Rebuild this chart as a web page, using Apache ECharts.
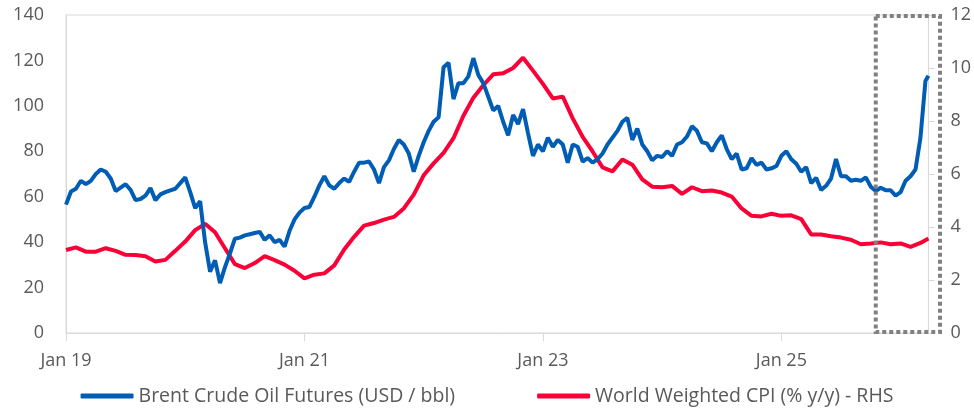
<!DOCTYPE html>
<html>
<head>
<meta charset="utf-8">
<script src="https://cdn.jsdelivr.net/npm/echarts@6/dist/echarts.min.js"></script>
<style>
html,body{margin:0;padding:0;background:#fff;}
#chart{width:974px;height:408px;}
</style>
</head>
<body>
<div id="chart"></div>
<script>
// Brent crude oil futures (USD/bbl), half-monthly readings (1st and 16th of each month)
var brent2019 = [56.5,62.3,63.5,67,65.5,67,70,72,71,68,62.5,64,65.5,63,58.5,59,60.5,63.8,58.5,61,62,62.8,63.5,66];
var brent2020 = [68.5,62,55,58,40,27,32,22,29,35,41.5,42,43,43.5,44,44.5,41,43,40,41,38,45,50,53];
var brent2021 = [55,55.5,60,65,69,65,63.5,66,68,66.5,71,75,75,75.5,72,66,73,76,81,85,83,79,71,78];
var brent2022 = [84,89,93,95,117,119,103,110,110,113,121,113.6,110,104,98,100,93,87,96,92,98.6,88,78,83];
var brent2023 = [80,86,82,85,83,75,83,82,75.5,77,75,76.5,79,83,86,89,93,94.7,85,90,83,80,76,78];
var brent2024 = [77.5,80,78,83,84,86.5,91,89,84,83.5,80,84,87,81,76.5,79,72,72.5,77,74,75,72,72.5,73.5];
var brent2025 = [78,80,76.5,74.5,71,73,66,68.3,63,64.8,68,76.6,69,69,67,67.5,67,68.5,64.4,62.5,64,62.8,62.8,60.5];
var brent2026 = [62,67,69,72,86,111];
var brentLast = ['2026-03-25', 113.3];

// World weighted CPI (% y/y), monthly
var cpi2019 = [3.13,3.23,3.07,3.07,3.2,3.1,2.95,2.94,2.9,2.7,2.76,3.1];
var cpi2020 = [3.45,3.88,4.12,3.8,3.2,2.6,2.45,2.64,2.9,2.75,2.58,2.35];
var cpi2021 = [2.06,2.2,2.25,2.55,3.15,3.63,4.05,4.15,4.28,4.38,4.7,5.22];
var cpi2022 = [5.95,6.4,6.8,7.35,8.2,8.88,9.35,9.76,9.8,10.0,10.39,9.9];
var cpi2023 = [9.4,8.85,8.92,8.1,7.4,6.85,6.25,6.1,6.55,6.35,5.8,5.52];
var cpi2024 = [5.5,5.55,5.25,5.5,5.35,5.38,5.3,5.15,4.7,4.42,4.4,4.5];
var cpi2025 = [4.42,4.44,4.3,3.72,3.72,3.65,3.6,3.52,3.35,3.38,3.42,3.35];
var cpi2026 = [3.38,3.25,3.4];
var cpiLast = ['2026-03-25', 3.57];

var axisStart = '2019-01-01';
var axisEnd = '2026-03-25';
var xTickYears = ['Jan 19','Jan 21','Jan 23','Jan 25'];
var leftTicks = [0,20,40,60,80,100,120,140];
var rightTicks = [0,2,4,6,8,10,12];
var seriesNames = ['Brent Crude Oil Futures (USD / bbl)', 'World Weighted CPI (% y/y) - RHS'];
var highlightFrom = '2025-10-16';
var highlightTo = '2026-04-30';

function monthIndex(dateStr){
  var p = dateStr.split('-').map(Number);
  return (p[0]-2019)*12 + (p[1]-1) + (p[2]-1)/30;
}
function halfMonthly(year, arr){
  return arr.map(function(v,i){
    var m = Math.floor(i/2), d = (i%2) ? 16 : 1;
    var ds = year + '-' + String(m+1).padStart(2,'0') + '-' + String(d).padStart(2,'0');
    return [monthIndex(ds), v];
  });
}
function monthly(year, arr){
  return arr.map(function(v,i){
    var ds = year + '-' + String(i+1).padStart(2,'0') + '-01';
    return [monthIndex(ds), v];
  });
}
var brentData = [].concat(
  halfMonthly(2019,brent2019), halfMonthly(2020,brent2020), halfMonthly(2021,brent2021),
  halfMonthly(2022,brent2022), halfMonthly(2023,brent2023), halfMonthly(2024,brent2024),
  halfMonthly(2025,brent2025), halfMonthly(2026,brent2026), [[monthIndex(brentLast[0]), brentLast[1]]]);
var cpiData = [].concat(
  monthly(2019,cpi2019), monthly(2020,cpi2020), monthly(2021,cpi2021), monthly(2022,cpi2022),
  monthly(2023,cpi2023), monthly(2024,cpi2024), monthly(2025,cpi2025), monthly(2026,cpi2026),
  [[monthIndex(cpiLast[0]), cpiLast[1]]]);

var FONT = '"Open Sans", Lato, sans-serif';
var LABEL = '#595959';
var AXIS = '#d9d9d9';

var chart = echarts.init(document.getElementById('chart'));
chart.setOption({
  animation: false,
  grid: {left: 66, right: 40, top: 15, bottom: 75, show: true, borderColor: AXIS, borderWidth: 1},
  legend: {
    top: 381, left: 'center', itemWidth: 53, itemHeight: 5, itemGap: 82,
    icon: 'roundRect',
    textStyle: {fontFamily: FONT, fontSize: 19.5, color: LABEL},
    data: seriesNames
  },
  xAxis: {
    type: 'value', min: monthIndex(axisStart), max: monthIndex(axisEnd), interval: 24,
    axisLine: {show: true, lineStyle: {color: AXIS, width: 1}},
    axisTick: {show: true, length: 8, lineStyle: {color: AXIS}},
    splitLine: {show: false},
    axisLabel: {
      fontFamily: FONT, fontSize: 18, color: LABEL, margin: 19,
      formatter: function(v){ var i = Math.round(v/24); return xTickYears[i] || ''; },
      showMaxLabel: false
    }
  },
  yAxis: [{
    type: 'value', min: leftTicks[0], max: leftTicks[leftTicks.length-1], interval: 20,
    axisLine: {show: true, lineStyle: {color: AXIS}},
    axisTick: {show: false}, splitLine: {show: false},
    axisLabel: {fontFamily: FONT, fontSize: 18, color: LABEL, margin: 22}
  },{
    type: 'value', min: rightTicks[0], max: rightTicks[rightTicks.length-1], interval: 2,
    position: 'right',
    axisLine: {show: true, lineStyle: {color: AXIS}},
    axisTick: {show: true, length: 6, lineStyle: {color: AXIS}}, splitLine: {show: false},
    axisLabel: {fontFamily: FONT, fontSize: 18, color: LABEL, margin: 22}
  }],
  series: [{
    name: seriesNames[0], type: 'line', yAxisIndex: 0, data: brentData,
    symbol: 'none', lineStyle: {color: '#005DB5', width: 4}, itemStyle: {color: '#005DB5'}, z: 3
  },{
    name: seriesNames[1], type: 'line', yAxisIndex: 1, data: cpiData,
    symbol: 'none', lineStyle: {color: '#FA0036', width: 4}, itemStyle: {color: '#FA0036'}, z: 2
  }]
});

var x0 = chart.convertToPixel({xAxisIndex: 0}, monthIndex(highlightFrom));
var x1 = chart.convertToPixel({xAxisIndex: 0}, monthIndex(highlightTo));
var yTop = chart.convertToPixel({yAxisIndex: 0}, leftTicks[leftTicks.length-1]);
var yBot = chart.convertToPixel({yAxisIndex: 0}, leftTicks[0]);
chart.setOption({
  graphic: [{
    type: 'rect', z: 10, silent: true,
    shape: {x: x0, y: yTop + 1, width: x1 - x0, height: yBot - yTop - 2},
    style: {fill: 'none', stroke: '#808080', lineWidth: 4, lineDash: [4, 3]}
  }]
});
</script>
</body>
</html>
